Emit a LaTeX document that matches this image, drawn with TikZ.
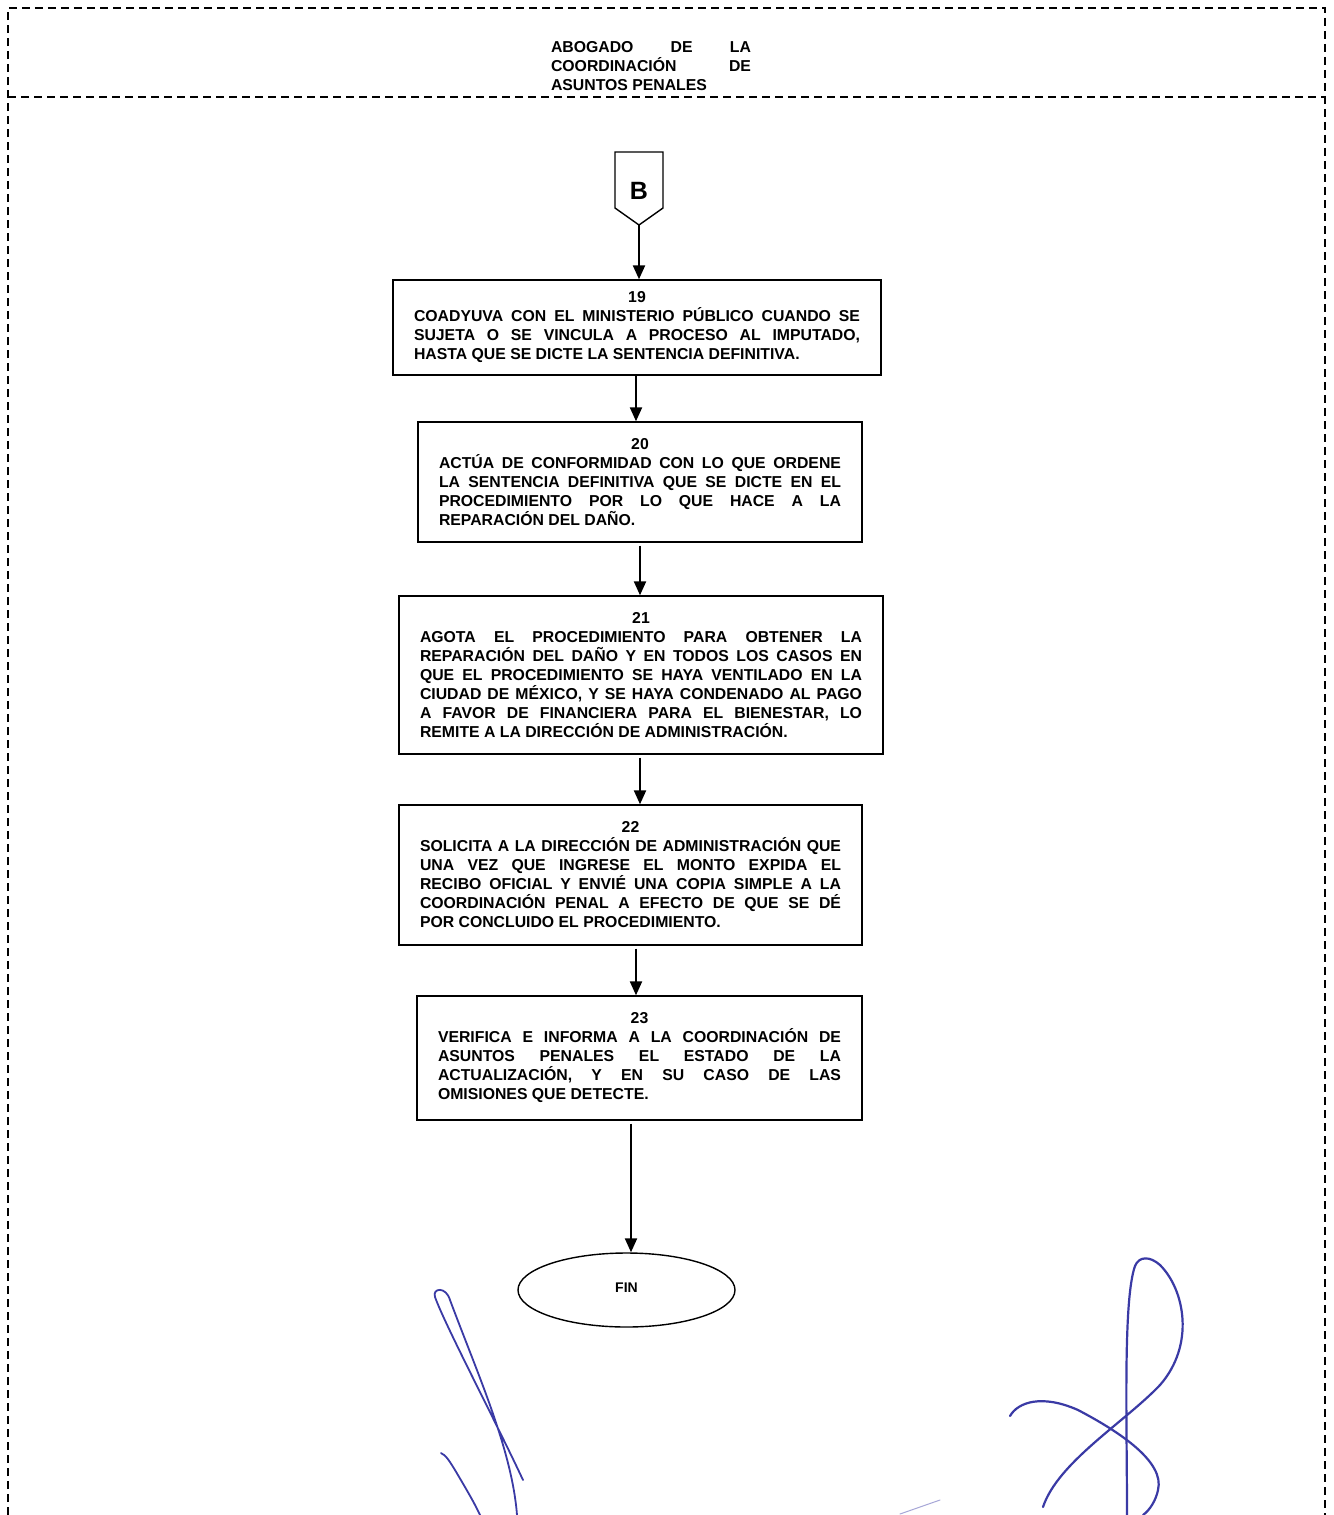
\documentclass[tikz,border=0pt]{standalone}
\usepackage{fontspec}
\setmainfont{Liberation Sans}
\usetikzlibrary{arrows.meta,shapes.geometric}
\definecolor{sigblue}{RGB}{58,58,165}
\begin{document}
\tolerance=10000
\hyphenpenalty=10000
\begin{tikzpicture}[x=1pt,y=-1pt,
  frame/.style={line width=1.1pt,dash pattern=on 8pt off 5pt},
  bodyfont/.style={font=\fontsize{15.8}{19}\selectfont\bfseries},
  stepbox/.style={draw,line width=1.4pt,align=justify,inner xsep=21pt,inner ysep=0pt,bodyfont},
  flow/.style={line width=2.2pt,-{Triangle[length=14pt,width=12pt]}},
  ink/.style={draw=sigblue,line width=2.2pt,line cap=round}]
\useasboundingbox[fill=white] (0,0) rectangle (1333,1515);

% swimlane frame
\draw[frame] (8,1515) -- (8,8) -- (1325,8) -- (1325,1515);
\draw[frame] (8,97) -- (1325,97);
\node[align=justify,text width=200pt,inner sep=0pt,bodyfont] (lane) at (651,66)
  {ABOGADO DE LA\linebreak COORDINACIÓN DE\linebreak ASUNTOS PENALES};

% off-page connector B
\draw[line width=1.4pt] (615,152) -- (663,152) -- (663,208) -- (639,225) -- (615,208) -- cycle;
\node[font=\fontsize{25}{28}\selectfont\bfseries,inner sep=0pt] (conB) at (639,191) {B};
\coordinate (btip) at (639,225);

% steps
\node[stepbox,text width=446pt,minimum height=95pt] (n19) at (637,327.5)
  {{\centering 19\par}COADYUVA CON EL MINISTERIO PÚBLICO CUANDO SE\linebreak
   SUJETA O SE VINCULA A PROCESO AL IMPUTADO,\linebreak
   HASTA QUE SE DICTE LA SENTENCIA DEFINITIVA.};

\node[stepbox,text width=402pt,minimum height=120pt] (n20) at (640,482)
  {{\centering 20\par}ACTÚA DE CONFORMIDAD CON LO QUE ORDENE\linebreak
   LA SENTENCIA DEFINITIVA QUE SE DICTE EN EL\linebreak
   PROCEDIMIENTO POR LO QUE HACE A LA\linebreak
   REPARACIÓN DEL DAÑO.};

\node[stepbox,text width=442pt,minimum height=158pt] (n21) at (641,675)
  {{\centering 21\par}AGOTA EL PROCEDIMIENTO PARA OBTENER LA\linebreak
   REPARACIÓN DEL DAÑO Y EN TODOS LOS CASOS EN\linebreak
   QUE EL PROCEDIMIENTO SE HAYA VENTILADO EN LA\linebreak
   CIUDAD DE MÉXICO, Y SE HAYA CONDENADO AL PAGO\linebreak
   A FAVOR DE FINANCIERA PARA EL BIENESTAR, LO\linebreak
   REMITE A LA DIRECCIÓN DE ADMINISTRACIÓN.};

\node[stepbox,text width=421pt,minimum height=140pt] (n22) at (630.5,875)
  {{\centering 22\par}SOLICITA A LA DIRECCIÓN DE ADMINISTRACIÓN QUE\linebreak
   UNA VEZ QUE INGRESE EL MONTO EXPIDA EL\linebreak
   RECIBO OFICIAL Y ENVIÉ UNA COPIA SIMPLE A LA\linebreak
   COORDINACIÓN PENAL A EFECTO DE QUE SE DÉ\linebreak
   POR CONCLUIDO EL PROCEDIMIENTO.};

\node[stepbox,text width=403pt,minimum height=124pt] (n23) at (639.5,1058)
  {{\centering 23\par}VERIFICA E INFORMA A LA COORDINACIÓN DE\linebreak
   ASUNTOS PENALES EL ESTADO DE LA\linebreak
   ACTUALIZACIÓN, Y EN SU CASO DE LAS\linebreak
   OMISIONES QUE DETECTE.};

\node[draw,ellipse,line width=1.4pt,minimum width=217pt,minimum height=74pt,inner sep=0pt,
  font=\fontsize{14}{16}\selectfont\bfseries] (fin) at (626.5,1290) {\raisebox{4pt}{FIN}};

% connectors
\draw[flow] (btip) -- (btip |- n19.north);
\draw[flow] ([xshift=-1pt]n19.south) -- ([xshift=-1pt]n19.south |- n20.north);
\draw[flow] ([yshift=-3pt]n20.south) -- (n20.south |- n21.north);
\draw[flow] ([xshift=-1pt,yshift=-3pt]n21.south) -- ([xshift=-1pt]n21.south |- n22.north);
\draw[flow] ([xshift=5.5pt,yshift=-3pt]n22.south) -- ([xshift=5.5pt]n22.south |- n23.north);
\draw[flow] ([xshift=-8.5pt,yshift=-3pt]n23.south) -- ([xshift=-8.5pt]n23.south |- fin.north);

% signatures
\path[ink,line width=1.8pt] (523,1480) .. controls (495,1420) and (445,1325) .. (435,1297)
  .. controls (432,1288) and (446,1286) .. (450,1300)
  .. controls (478,1375) and (512,1450) .. (517,1515);
\path[ink,line width=1.8pt] (441,1453) .. controls (446,1455) and (450,1462) .. (455,1470)
  .. controls (465,1487) and (474,1502) .. (480,1515);
\path[ink] (1127,1515) .. controls (1127,1420) and (1123,1300) .. (1135,1266)
  .. controls (1139,1256) and (1150,1256) .. (1160,1265)
  .. controls (1185,1290) and (1195,1345) .. (1160,1385)
  .. controls (1125,1422) and (1058,1462) .. (1043,1507);
\path[ink] (1010,1416) .. controls (1018,1402) and (1042,1394) .. (1078,1410)
  .. controls (1120,1432) and (1165,1462) .. (1158,1490)
  .. controls (1156,1500) and (1150,1510) .. (1143,1515);
\path[ink,draw=sigblue!45,line width=1pt] (940,1500) -- (900,1514);
\end{tikzpicture}
\end{document}
